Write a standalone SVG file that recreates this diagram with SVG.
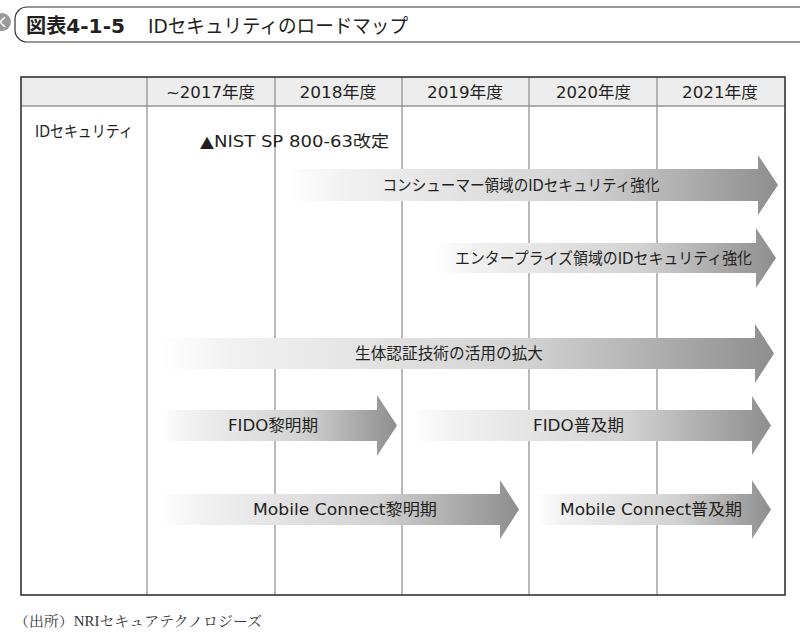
<svg xmlns="http://www.w3.org/2000/svg" width="800" height="638" viewBox="0 0 800 638">
<defs>
<linearGradient id="g" x1="0" y1="0" x2="1" y2="0">
<stop offset="0" stop-color="#ffffff"/>
<stop offset="0.12" stop-color="#f1f1f1"/>
<stop offset="0.6" stop-color="#d2d2d2"/>
<stop offset="1" stop-color="#8e8e8e"/>
</linearGradient>
<style>
.t{font-family:"DejaVu Sans","Noto Sans CJK JP",sans-serif;fill:#231f20}
.h{font-size:16px;text-anchor:middle}
.a{font-size:15.5px;text-anchor:middle}
.arr{fill:url(#g)}
.col{stroke:#8a8a8a;stroke-width:1.2}
</style>
</defs>
<rect width="800" height="638" fill="#ffffff"/>
<g id="title">
<circle cx="2" cy="22" r="9" fill="#9a9a9a"/>
<path d="M5 17 L0 22 L5 27" fill="none" stroke="#ffffff" stroke-width="1.5"/>
<rect x="15" y="7" width="800" height="35" rx="12" fill="#ffffff" stroke="#333" stroke-width="1.2"/>
<text class="t" x="26" y="33" font-size="20" font-weight="bold" textLength="99" lengthAdjust="spacingAndGlyphs">図表4-1-5</text>
<text class="t" x="148" y="33" font-size="19.5" textLength="260" lengthAdjust="spacingAndGlyphs">IDセキュリティのロードマップ</text>
</g>
<g id="table">
<rect x="21" y="77" width="764" height="29" fill="#ededed"/>
<line x1="21" y1="106" x2="785" y2="106" stroke="#666" stroke-width="1"/>
<line class="col" x1="147" y1="77" x2="147" y2="595"/>
<line class="col" x1="275" y1="77" x2="275" y2="595"/>
<line class="col" x1="402" y1="77" x2="402" y2="595"/>
<line class="col" x1="529" y1="77" x2="529" y2="595"/>
<line class="col" x1="657" y1="77" x2="657" y2="595"/>
<rect x="21" y="77" width="764" height="518" fill="none" stroke="#333" stroke-width="1.6"/>
<text class="t h" x="210.5" y="98" textLength="89" lengthAdjust="spacingAndGlyphs">~2017年度</text>
<text class="t h" x="338" y="98" textLength="77" lengthAdjust="spacingAndGlyphs">2018年度</text>
<text class="t h" x="465" y="98" textLength="76" lengthAdjust="spacingAndGlyphs">2019年度</text>
<text class="t h" x="593.5" y="98" textLength="75" lengthAdjust="spacingAndGlyphs">2020年度</text>
<text class="t h" x="720" y="98" textLength="76" lengthAdjust="spacingAndGlyphs">2021年度</text>
<text class="t" x="35" y="137" font-size="16" textLength="98" lengthAdjust="spacingAndGlyphs">IDセキュリティ</text>
<text class="t" x="200" y="147" font-size="16" textLength="189" lengthAdjust="spacingAndGlyphs">▲NIST SP 800-63改定</text>
</g>
<g id="arrows">
<g id="consumer">
<path class="arr" d="M287 169 H758 V155 L778 185 L758 215 V201 H287 Z"/>
<text class="t a" x="521" y="191" textLength="277" lengthAdjust="spacingAndGlyphs">コンシューマー領域のIDセキュリティ強化</text>
</g>
<g id="enterprise">
<path class="arr" d="M435 243 H756 V228 L776 258 L756 288 V273 H435 Z"/>
<text class="t a" x="603.5" y="264" textLength="297" lengthAdjust="spacingAndGlyphs">エンタープライズ領域のIDセキュリティ強化</text>
</g>
<g id="biometric">
<path class="arr" d="M160 338 H755 V324 L774 353.5 L755 383 V369 H160 Z"/>
<text class="t a" x="449" y="359" textLength="188" lengthAdjust="spacingAndGlyphs">生体認証技術の活用の拡大</text>
</g>
<g id="fido1">
<path class="arr" d="M160 410 H377 V395 L397 425.5 L377 456 V441 H160 Z"/>
<text class="t a" x="273" y="431" textLength="90" lengthAdjust="spacingAndGlyphs">FIDO黎明期</text>
</g>
<g id="fido2">
<path class="arr" d="M412 410 H752 V396 L771 425.5 L752 455 V441 H412 Z"/>
<text class="t a" x="578.5" y="431" textLength="91" lengthAdjust="spacingAndGlyphs">FIDO普及期</text>
</g>
<g id="mc1">
<path class="arr" d="M160 494 H500 V480 L519 509.5 L500 539 V525 H160 Z"/>
<text class="t a" x="345" y="515" textLength="184" lengthAdjust="spacingAndGlyphs">Mobile Connect黎明期</text>
</g>
<g id="mc2">
<path class="arr" d="M535 494 H752 V480 L771 509.5 L752 539 V525 H535 Z"/>
<text class="t a" x="651" y="515" textLength="182" lengthAdjust="spacingAndGlyphs">Mobile Connect普及期</text>
</g>
</g>
<text x="14" y="626" font-family="'Liberation Serif','Noto Serif CJK JP','Noto Sans CJK JP',serif" font-size="14" fill="#333" textLength="248" lengthAdjust="spacingAndGlyphs">（出所）NRIセキュアテクノロジーズ</text>
</svg>
